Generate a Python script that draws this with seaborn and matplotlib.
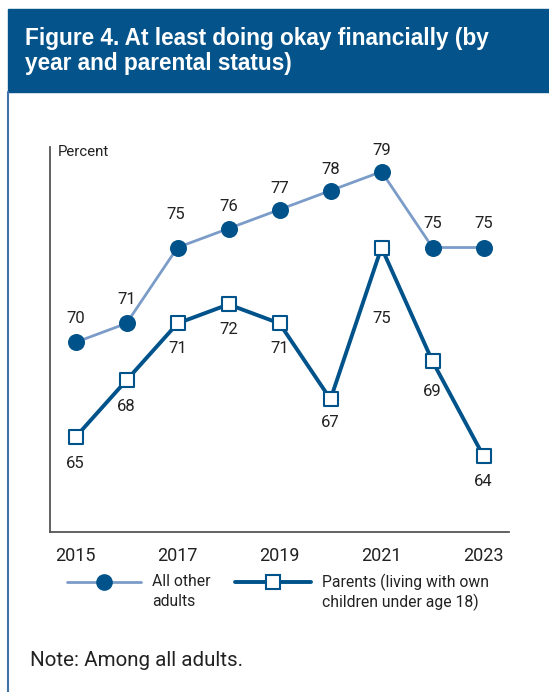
import matplotlib
matplotlib.use("Agg")
import matplotlib.pyplot as plt
from matplotlib.lines import Line2D
from matplotlib.patches import Rectangle
import seaborn as sns
import pandas as pd

years = [2015, 2016, 2017, 2018, 2019, 2020, 2021, 2022, 2023]
other_adults = [70, 71, 75, 76, 77, 78, 79, 75, 75]
parents = [65, 68, 71, 72, 71, 67, 75, 69, 64]
tick_years = [2015, 2017, 2019, 2021, 2023]
series_names = ["All other\nadults", "Parents (living with own\nchildren under age 18)"]

DARK = "#00538a"
LIGHT = "#7b9cc8"
TEXT = "#222222"
W, H = 549, 692


def fx(px):
    return px / W


def fy(py):
    return 1 - py / H


sns.set_style("white")
plt.rcParams["font.family"] = ["Roboto", "DejaVu Sans"]

df = pd.DataFrame({
    "year": years * 2,
    "value": other_adults + parents,
    "group": ["other"] * len(years) + ["parents"] * len(years),
})

fig = plt.figure(figsize=(W / 100, H / 100), dpi=100)
ax = fig.add_axes([fx(50), fy(532), (509 - 50) / W, (532 - 147) / H])

# connecting lines
sns.lineplot(data=df[df.group == "other"], x="year", y="value", ax=ax,
             color=LIGHT, linewidth=2.0, legend=False)
sns.lineplot(data=df[df.group == "parents"], x="year", y="value", ax=ax,
             color=DARK, linewidth=2.8, legend=False)
# point markers
sns.scatterplot(data=df[df.group == "other"], x="year", y="value", ax=ax,
                marker="o", s=150, color=DARK, edgecolor=DARK, linewidth=0,
                zorder=5, legend=False, clip_on=False)
sns.scatterplot(data=df[df.group == "parents"], x="year", y="value", ax=ax,
                marker="s", s=100, color="white", edgecolor=DARK, linewidth=1.5,
                zorder=5, legend=False, clip_on=False)

# value labels (offsets in points)
other_off = [(0, 17), (0, 17), (-1, 24), (0, 16), (0, 15), (0, 15), (0, 15), (0, 17), (0, 17)]
parent_off = [(0, -19), (0, -19), (0, -18), (0, -18), (0, -18), (0, -17), (0, -51), (0, -22), (0, -18)]
for x, v, off in zip(years, other_adults, other_off):
    ax.annotate(str(v), (x, v), xytext=off, textcoords="offset points",
                ha="center", va="center", fontsize=12, color=TEXT,
                annotation_clip=False)
for x, v, off in zip(years, parents, parent_off):
    ax.annotate(str(v), (x, v), xytext=off, textcoords="offset points",
                ha="center", va="center", fontsize=12, color=TEXT,
                annotation_clip=False)

ax.set_xlim(2014.5, 2023.5)
ax.set_ylim(60, 80.3)
ax.set_xticks(tick_years)
ax.set_xticklabels([str(y) for y in tick_years], fontsize=13, color=TEXT)
ax.set_yticks([])
ax.tick_params(axis="x", length=0, pad=11)
ax.set_xlabel("")
ax.set_ylabel("")
sns.despine(ax=ax)
for side in ("left", "bottom"):
    ax.spines[side].set_color("#555555")
    ax.spines[side].set_linewidth(1.3)
fig.text(fx(58), fy(152), "Percent", fontsize=10.8, color=TEXT,
         ha="left", va="center")

# legend: line + marker swatch aligned with the first line of each label
legend_items = [
    (67, 141, dict(color=LIGHT, linewidth=2.0),
     dict(marker="o", markersize=12, markerfacecolor=DARK,
          markeredgecolor=DARK, markeredgewidth=0), 152),
    (235, 311, dict(color=DARK, linewidth=2.8),
     dict(marker="s", markersize=10, markerfacecolor="white",
          markeredgecolor=DARK, markeredgewidth=1.5), 322),
]
for (x0, x1, line_style, marker_style, tx), name in zip(legend_items, series_names):
    fig.add_artist(Line2D([fx(x0), fx(x1)], [fy(582), fy(582)],
                          transform=fig.transFigure, **line_style))
    fig.add_artist(Line2D([fx((x0 + x1) / 2)], [fy(582)],
                          transform=fig.transFigure, linestyle="none",
                          **marker_style))
    first, second = name.split("\n")
    fig.text(fx(tx), fy(582), first, fontsize=11.3, color=TEXT,
             ha="left", va="center")
    fig.text(fx(tx), fy(602), second, fontsize=11.3, color=TEXT,
             ha="left", va="center")

# title banner and frame
fig.patches.append(Rectangle((fx(8), fy(92)), 1, 83 / H,
                             transform=fig.transFigure, color="#04548b",
                             zorder=0))
fig.add_artist(Line2D([fx(8), fx(8)], [0, fy(92)],
                      transform=fig.transFigure, color="#3f73aa",
                      linewidth=1.5))
title_font = dict(color="white", fontsize=16.3, fontweight="bold", ha="left",
                  va="baseline", family=["Liberation Sans", "DejaVu Sans"])
fig.text(fx(25), fy(45), "Figure 4. At least doing okay financially (by",
         **title_font)
fig.text(fx(25), fy(70), "year and parental status)", **title_font)

fig.text(fx(30), fy(660), "Note: Among all adults.", fontsize=14.8,
         color=TEXT, ha="left", va="center")

fig.savefig("out.png", dpi=100)
